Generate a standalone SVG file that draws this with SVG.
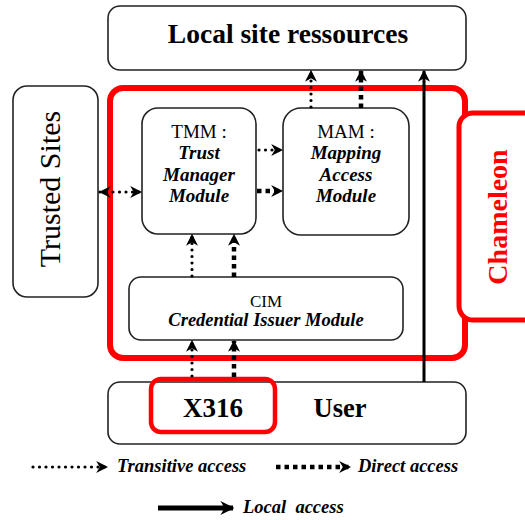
<svg xmlns="http://www.w3.org/2000/svg" width="525" height="520" viewBox="0 0 525 520">
  <defs>
    <marker id="head" viewBox="0 0 10 10" refX="9" refY="5" markerWidth="12" markerHeight="12" markerUnits="userSpaceOnUse" orient="auto-start-reverse">
      <path d="M0,0 L10,5 L0,10 L3,5 z" fill="#000"/>
    </marker>
    <marker id="headBig" viewBox="0 0 10 10" refX="9" refY="5" markerWidth="14" markerHeight="14" markerUnits="userSpaceOnUse" orient="auto">
      <path d="M0,0 L10,5 L0,10 L3,5 z" fill="#000"/>
    </marker>
  </defs>
  <style>
    .box { fill: #fff; stroke: #222; stroke-width: 1.6; }
    .red { fill: none; stroke: #f00; stroke-width: 6; }
    .t { font-family: "Liberation Serif", "Times New Roman", serif; fill: #000; }
    .b { font-weight: bold; }
    .i { font-style: italic; font-weight: bold; }
    .mid { text-anchor: middle; }
    .dot { fill: none; stroke: #000; stroke-width: 3.2; stroke-linecap: round; stroke-dasharray: 0 6.5; }
    .dash { fill: none; stroke: #000; stroke-width: 4.5; stroke-dasharray: 4.5 4; }
    .solid { fill: none; stroke: #000; stroke-width: 3; }
  </style>

  <rect width="525" height="520" fill="#fff"/>

  <g id="local-site">
    <rect class="box" x="108" y="6" width="358" height="64" rx="12"/>
    <text class="t b mid" x="288" y="43" font-size="27.5">Local site ressources</text>
  </g>

  <g id="trusted-sites">
    <rect class="box" x="13" y="86" width="85" height="211" rx="14"/>
    <text class="t mid" transform="translate(60,189) rotate(-90)" font-size="30">Trusted Sites</text>
  </g>

  <g id="user">
    <rect class="box" x="108" y="382" width="358" height="62" rx="12"/>
    <text class="t b mid" x="340" y="417" font-size="26.5">User</text>
  </g>

  <g id="chameleon">
    <rect class="red" x="110" y="88" width="355" height="270" rx="13"/>
    <rect x="459" y="113" width="80" height="207" rx="14" fill="#fff" stroke="#f00" stroke-width="5"/>
    <text class="t b mid" transform="translate(507,217) rotate(-90)" font-size="28" style="fill:#f00">Chameleon</text>
  </g>

  <g id="x316">
    <rect x="151" y="379" width="124" height="53" rx="10" fill="none" stroke="#f00" stroke-width="4.5"/>
    <text class="t b mid" x="213" y="417" font-size="27">X316</text>
  </g>

  <g id="tmm">
    <rect class="box" x="142" y="108" width="114" height="126" rx="16"/>
    <text class="t mid" x="199" y="138" font-size="19">TMM :</text>
    <text class="t i mid" x="199" y="159" font-size="19">Trust</text>
    <text class="t i mid" x="199" y="181" font-size="19">Manager</text>
    <text class="t i mid" x="199" y="202" font-size="19">Module</text>
  </g>

  <g id="mam">
    <rect class="box" x="283" y="108" width="126" height="127" rx="18"/>
    <text class="t mid" x="346" y="138" font-size="19">MAM :</text>
    <text class="t i mid" x="346" y="159" font-size="19">Mapping</text>
    <text class="t i mid" x="346" y="181" font-size="19">Access</text>
    <text class="t i mid" x="346" y="202" font-size="19">Module</text>
  </g>

  <g id="cim">
    <rect class="box" x="129" y="277" width="274" height="63" rx="12"/>
    <text class="t mid" x="266" y="307" font-size="17">CIM</text>
    <text class="t i mid" x="266" y="326" font-size="18.5">Credential Issuer Module</text>
  </g>

  <g id="connectors">
    <!-- Trusted Sites <-> TMM -->
    <path class="dot" d="M100,192 L141,192" marker-start="url(#head)" marker-end="url(#head)"/>
    <!-- TMM -> MAM -->
    <path class="dot" d="M259,150 L282,150" marker-end="url(#head)"/>
    <path class="dash" d="M257,191 L282,191" marker-end="url(#head)"/>
    <!-- MAM -> Local site ressources -->
    <path class="dot" d="M311,107 L311,71" marker-end="url(#head)"/>
    <path class="dash" d="M361,108 L361,71" marker-end="url(#head)"/>
    <!-- CIM -> TMM -->
    <path class="dot" d="M192,276 L192,235" marker-end="url(#head)"/>
    <path class="dash" d="M234,277 L234,235" marker-end="url(#head)"/>
    <!-- X316 -> CIM -->
    <path class="dot" d="M192,376 L192,341" marker-end="url(#head)"/>
    <path class="dash" d="M234,377 L234,341" marker-end="url(#head)"/>
    <!-- User -> Local site ressources -->
    <path class="solid" d="M424,382 L424,71" marker-end="url(#head)"/>
  </g>

  <g id="legend">
    <path class="dot" d="M33,467 L107,467" marker-end="url(#head)"/>
    <text class="t i" x="117" y="472" font-size="18.5">Transitive access</text>
    <path class="dash" d="M276,467 L350,467" marker-end="url(#head)"/>
    <text class="t i" x="358" y="472" font-size="18.5">Direct access</text>
    <path fill="none" stroke="#000" stroke-width="5" d="M158,508 L233,508" marker-end="url(#headBig)"/>
    <text class="t i" x="243" y="513" font-size="18.5" xml:space="preserve">Local  access</text>
  </g>
</svg>
